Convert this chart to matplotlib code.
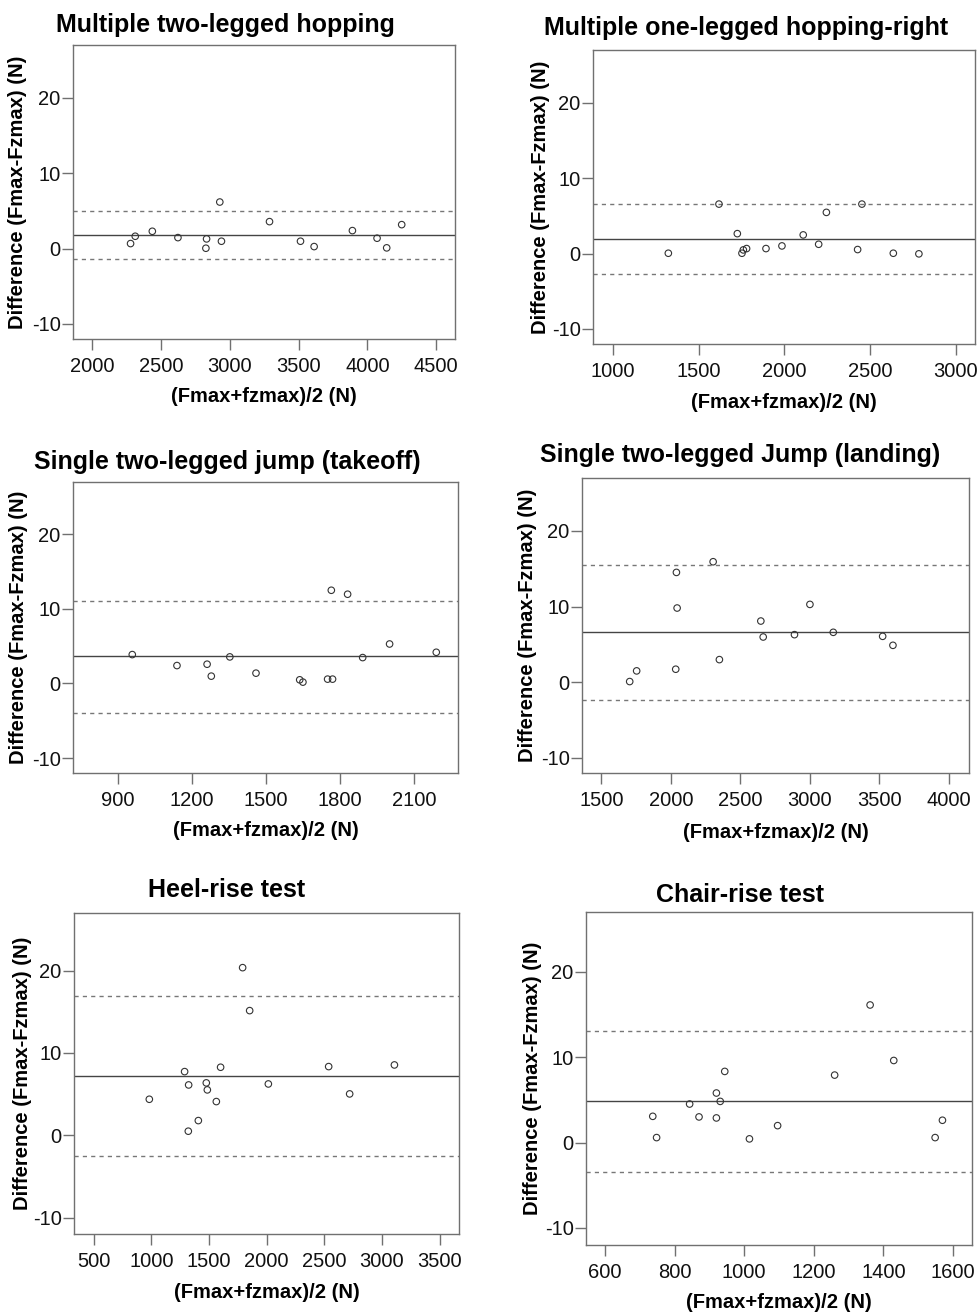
import numpy as np
import matplotlib
matplotlib.use("Agg")
import matplotlib.pyplot as plt

plt.rcParams['font.family'] = ['Liberation Sans', 'DejaVu Sans']
plt.rcParams['axes.unicode_minus'] = False

# ---- data (mean x, difference y) ----
titles = [
    'Multiple two-legged hopping',
    'Multiple one-legged hopping-right',
    'Single two-legged jump (takeoff)',
    'Single two-legged Jump (landing)',
    'Heel-rise test',
    'Chair-rise test',
]

hop2_x = [2280, 2314, 2438, 2624, 2832, 2827, 2928, 2940, 3289, 3514, 3613, 3891, 4070, 4140, 4249]
hop2_y = [0.66, 1.63, 2.29, 1.45, 1.28, 0.04, 6.17, 0.97, 3.57, 0.97, 0.26, 2.38, 1.37, 0.09, 3.17]

hop1_x = [1324, 1619, 1726, 1753, 1761, 1780, 1893, 1986, 2110, 2200, 2245, 2427, 2452, 2635, 2784]
hop1_y = [0.04, 6.56, 2.64, 0.04, 0.48, 0.66, 0.66, 1.01, 2.47, 1.23, 5.46, 0.53, 6.56, 0.04, -0.04]

takeoff_x = [959, 1140, 1262, 1279, 1354, 1460, 1637, 1650, 1750, 1770, 1765, 1831, 1892, 2001, 2190]
takeoff_y = [3.87, 2.40, 2.58, 0.98, 3.56, 1.38, 0.49, 0.18, 0.58, 0.58, 12.49, 11.96, 3.47, 5.29, 4.18]

landing_x = [1704, 1754, 2035, 2040, 2045, 2304, 2349, 2647, 2664, 2889, 3000, 3168, 3523, 3597]
landing_y = [0.09, 1.50, 1.72, 14.52, 9.81, 15.93, 2.99, 8.09, 5.98, 6.29, 10.29, 6.60, 6.07, 4.88]

heel_x = [983, 1289, 1324, 1321, 1408, 1477, 1486, 1564, 1601, 1792, 1853, 2015, 2538, 2720, 3108]
heel_y = [4.37, 7.73, 6.11, 0.49, 1.78, 6.36, 5.51, 4.09, 8.26, 20.36, 15.14, 6.23, 8.34, 5.02, 8.54]

chair_x = [737, 748, 843, 870, 920, 931, 920, 944, 1015, 1096, 1260, 1362, 1430, 1549, 1570]
chair_y = [3.07, 0.58, 4.51, 3.00, 5.80, 4.82, 2.88, 8.33, 0.43, 1.98, 7.90, 16.11, 9.61, 0.58, 2.61]

# mean difference and limits of agreement
mean_diff = [1.81, 1.89, 3.64, 6.69, 7.21, 4.90]
upper_loa = [4.98, 6.61, 11.11, 15.53, 16.92, 13.11]
lower_loa = [-1.41, -2.78, -3.91, -2.29, -2.47, -3.50]

x_ticks = [
    [2000, 2500, 3000, 3500, 4000, 4500],
    [1000, 1500, 2000, 2500, 3000],
    [900, 1200, 1500, 1800, 2100],
    [1500, 2000, 2500, 3000, 3500, 4000],
    [500, 1000, 1500, 2000, 2500, 3000, 3500],
    [600, 800, 1000, 1200, 1400, 1600],
]
x_lims = [(1862, 4636), (885, 3111), (719, 2278), (1361, 4144), (330, 3668), (545, 1655)]
y_ticks = [-10, 0, 10, 20]
y_lim = (-12, 27)

xs = [hop2_x, hop1_x, takeoff_x, landing_x, heel_x, chair_x]
ys = [hop2_y, hop1_y, takeoff_y, landing_y, heel_y, chair_y]

# ---- layout in pixels (x0, y0, x1, y1) ----
W, H = 980, 1312
boxes = [
    (73, 45, 455, 339),
    (593, 50, 975, 344),
    (73, 482, 458, 773),
    (582, 478, 969, 773),
    (74, 913, 459, 1234),
    (586, 912, 972, 1245),
]
title_pos = [(225, 25), (746, 28), (227, 462), (740, 455), (227, 890), (740, 895)]
ylabel_x = [18, 540, 18, 527, 22, 533]
xlabel_y = [397, 402, 830, 832, 1293, 1302]

fig = plt.figure(figsize=(W / 100, H / 100), dpi=100)

spine_col = '#707070'
for i in range(6):
    x0, y0, x1, y1 = boxes[i]
    ax = fig.add_axes([x0 / W, 1 - y1 / H, (x1 - x0) / W, (y1 - y0) / H])

    ax.scatter(xs[i], ys[i], s=22, facecolors='none', edgecolors='#333333',
               linewidths=0.8, zorder=3)
    ax.axhline(mean_diff[i], color='#444444', lw=1.0)
    ax.axhline(upper_loa[i], color='#777777', lw=1.0, ls=(0, (3, 3)))
    ax.axhline(lower_loa[i], color='#777777', lw=1.0, ls=(0, (3, 3)))

    ax.set_xlim(*x_lims[i])
    ax.set_ylim(*y_lim)
    ax.set_xticks(x_ticks[i])
    ax.set_yticks(y_ticks)
    ax.tick_params(axis='both', direction='out', length=8, width=1.0,
                   color=spine_col, labelsize=14.5, labelcolor='#111111')
    ax.tick_params(axis='y', pad=1)
    ax.tick_params(axis='x', pad=5)
    for sp in ax.spines.values():
        sp.set_color(spine_col)
        sp.set_linewidth(1.0)

    ax.set_ylabel('Difference (Fmax-Fzmax) (N)', fontsize=14.5, fontweight='bold')
    ax.yaxis.set_label_coords((ylabel_x[i] - x0) / (x1 - x0), 0.5)
    ax.set_xlabel('(Fmax+fzmax)/2 (N)', fontsize=14.5, fontweight='bold')
    ax.xaxis.set_label_coords(0.5, (y1 - xlabel_y[i]) / (y1 - y0))
    ax.xaxis.label.set_va('center')
    ax.yaxis.label.set_va('center')

    tx, ty = title_pos[i]
    fig.text(tx / W, 1 - ty / H, titles[i], fontsize=18, fontweight='bold',
             ha='center', va='center')

fig.savefig('out.png', dpi=100)
